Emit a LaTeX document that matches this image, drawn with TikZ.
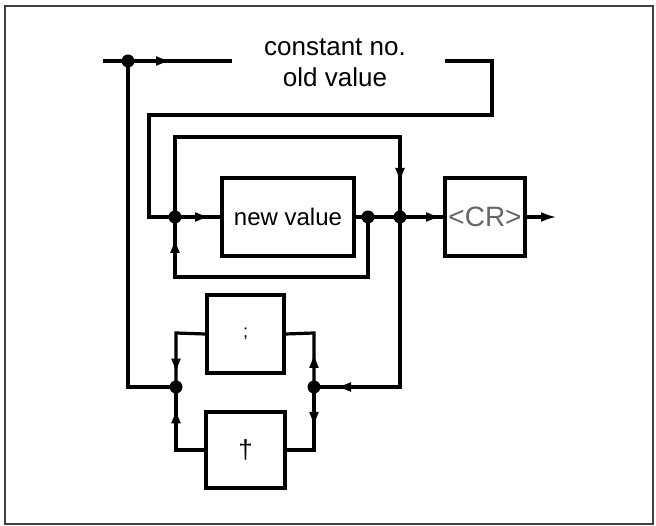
\documentclass[tikz,border=0pt]{standalone}
\usepackage{fontspec}
\setmainfont{Liberation Sans}
\usetikzlibrary{arrows.meta,decorations.markings}
\tikzset{
  mytip/.tip={Latex[length=16pt,width=10pt]},
  ln/.style={line width=3.2pt, line join=miter},
  box/.style={draw, line width=3.2pt, inner sep=0pt, font=\fontsize{24}{26}\selectfont},
  dot/.style={circle, fill=black, inner sep=0pt, minimum size=13pt},
  arrowat/.style={postaction={decorate}, decoration={markings, mark=at position #1 with {\arrow{mytip}}}},
  lbl/.style={font=\fontsize{26}{28}\selectfont, inner sep=0pt}
}
\begin{document}
\begin{tikzpicture}[x=1pt,y=-1pt]
\useasboundingbox (0,0) rectangle (656,526);
\draw[line width=2pt, black!75] (5,6) rectangle (653,524);

% nodes
\node[box, minimum width=132pt, minimum height=78pt] (nv) at (288,217) {new value};
\node[box, minimum width=80pt, minimum height=78pt, text=black!60, font=\fontsize{28}{30}\selectfont] (cr) at (485,217) {<CR>};
\node[box, minimum width=77pt, minimum height=78pt, font=\fontsize{18}{20}\selectfont] (semi) at (245.5,334) {;};
\node[box, minimum width=79pt, minimum height=76pt, font=\fontsize{26}{28}\selectfont] (dag) at (245.5,450) {\dag};
\node[lbl] (t1) at (335,47) {constant no.};
\node[lbl] (t2) at (335,77) {old value};

\node[dot] (J0) at (128,61) {};
\node[dot] (J1) at (175,217) {};
\node[dot] (J2) at (368,217) {};
\node[dot] (J3) at (400,217) {};
\node[dot] (J4) at (176,387) {};
\node[dot] (J5) at (314,387) {};

\coordinate (start) at (103,61);
\coordinate (gapL) at (232,61);
\coordinate (gapR) at (445,61);
\coordinate (fin) at (557,217);

% connectors
\draw[ln] (start) -- (J0.center);
\draw[ln, arrowat=44pt] (J0.center) -- (gapL);
\draw[ln] (gapR) -- (492,61) -- (492,115) -- (149,115) -- (149,217) -- (J1.center);
\draw[ln, arrowat=36pt] (J1.center) -- (nv.west);
\draw[ln] (nv.east) -- (J2.center) -- (J3.center);
\draw[ln, arrowat=42pt] (J3.center) -- (cr.west);
\draw[ln, -{mytip}] (cr.east) -- (fin);
\draw[ln, arrowat=352pt] (J1.center) -- (175,137) -- (400,137) -- (J3.center);
\draw[ln, arrowat=293pt] (J2.center) -- (368,277) -- (175,277) -- (J1.center);
\draw[ln, arrowat=235pt] (J3.center) -- (400,387) -- (J5.center);
\draw[ln, arrowat=35pt] (J5.center) -- (314,333) -- (semi.east);
\draw[ln, arrowat=41pt] (J5.center) -- (314,450) -- (dag.east);
\draw[ln, arrowat=71pt] (semi.west) -- (176,333) -- (J4.center);
\draw[ln, arrowat=71pt] (dag.west) -- (176,450) -- (J4.center);
\draw[ln] (J4.center) -- (128,387) -- (J0.center);
\end{tikzpicture}
\end{document}
